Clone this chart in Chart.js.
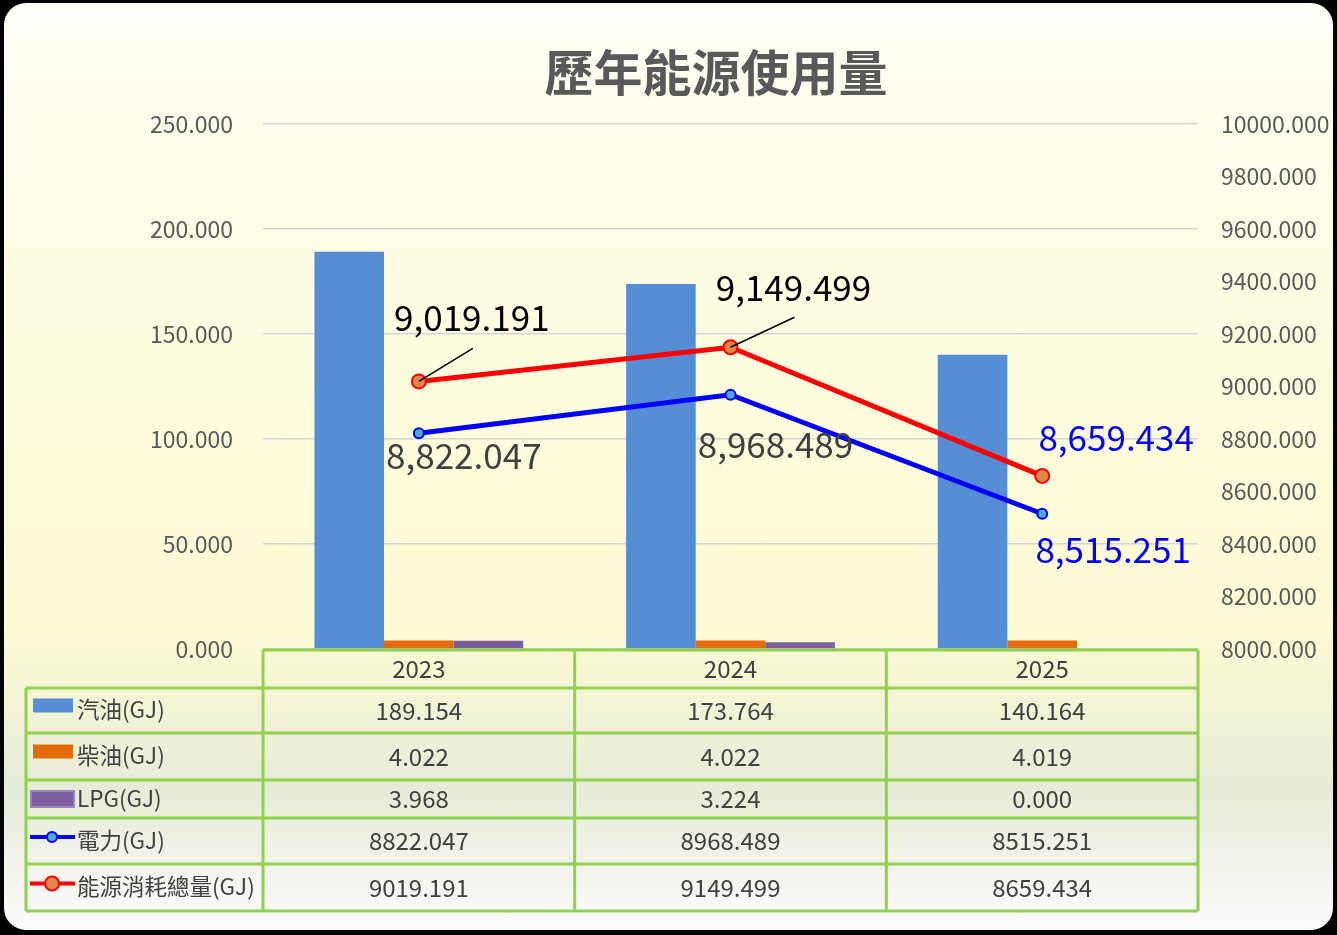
<!DOCTYPE html>
<html>
<head>
<meta charset="utf-8">
<script src="https://cdn.jsdelivr.net/npm/chart.js@4.4.1/dist/chart.umd.min.js"></script>
<style>
html, body { margin: 0; padding: 0; background: #000; width: 1337px; height: 935px; overflow: hidden; }
#panel {
  position: absolute; left: 4px; top: 3px; width: 1329px; height: 927px; border-radius: 22px;
  background: linear-gradient(to bottom, #fefef6 0%, #fefde2 30%, #fdfbd4 68%, #e6ecd8 85%, #f5f6f0 95%, #fcfcfc 100%);
}
#wrap { position: absolute; left: 0; top: 0; width: 1337px; height: 935px; }
</style>
</head>
<body>
<div id="panel"></div>
<div id="wrap"><canvas id="energyChart" width="1337" height="935"></canvas></div>
<script>
const years = ['2023', '2024', '2025'];
const gasoline = [189.154, 173.764, 140.164];
const diesel = [4.022, 4.022, 4.019];
const lpg = [3.968, 3.224, 0.000];
const electricity = [8822.047, 8968.489, 8515.251];
const totalEnergy = [9019.191, 9149.499, 8659.434];
const seriesNames = ['汽油(GJ)', '柴油(GJ)', 'LPG(GJ)', '電力(GJ)', '能源消耗總量(GJ)'];

const FONT = '"Noto Sans CJK TC", "Noto Sans", sans-serif';
const TEXT_GRAY = '#595959';
const GREEN = '#92d050';

// where the value labels of the two lines sit, relative to their point
const labelStyle = {
  3: { color: ['#404040', '#404040', '#0000ff'], dx: [45, 45, 71], dy: [22, 50, 36], leader: [null, null, null] },
  4: { color: ['#000000', '#000000', '#0000ff'], dx: [53, 63, 74], dy: [-64, -60, -38], leader: [[54, -33], [64, -30], null] }
};

function fmt(v) {
  return v.toLocaleString('en-US', { minimumFractionDigits: 3, maximumFractionDigits: 3 });
}

const titlePlugin = {
  id: 'titleText',
  afterDraw(chart) {
    const ctx = chart.ctx;
    ctx.save();
    ctx.font = 'bold 49px ' + FONT;
    ctx.fillStyle = TEXT_GRAY;
    ctx.textAlign = 'center';
    ctx.textBaseline = 'middle';
    ctx.fillText('歷年能源使用量', 716, 72);
    ctx.restore();
  }
};

const lineLabels = {
  id: 'lineLabels',
  afterDatasetsDraw(chart) {
    const ctx = chart.ctx;
    ctx.save();
    ctx.font = '35px ' + FONT;
    ctx.textAlign = 'center';
    ctx.textBaseline = 'middle';
    Object.keys(labelStyle).forEach(k => {
      const idx = +k;
      const st = labelStyle[k];
      const meta = chart.getDatasetMeta(idx);
      const values = chart.data.datasets[idx].data;
      meta.data.forEach((pt, i) => {
        if (st.leader[i]) {
          ctx.strokeStyle = '#000';
          ctx.lineWidth = 1.5;
          ctx.beginPath();
          ctx.moveTo(pt.x, pt.y);
          ctx.lineTo(pt.x + st.leader[i][0], pt.y + st.leader[i][1]);
          ctx.stroke();
        }
        ctx.fillStyle = st.color[i];
        ctx.fillText(fmt(values[i]), pt.x + st.dx[i], pt.y + st.dy[i]);
      });
    });
    ctx.restore();
  }
};

const dataTable = {
  id: 'dataTable',
  afterDraw(chart) {
    const ctx = chart.ctx;
    const area = chart.chartArea;
    const xs = chart.scales.x;
    const leftEdge = 26;
    const headerH = 38;
    const rowH = [45, 47, 38, 46, 47];
    const top = area.bottom + 1;
    const edges = [top + headerH];
    rowH.forEach(h => edges.push(edges[edges.length - 1] + h));
    const bottom = edges[edges.length - 1];
    const colW = (area.right - area.left) / years.length;
    const rows = [gasoline, diesel, lpg, electricity, totalEnergy];

    ctx.save();
    ctx.font = '24px ' + FONT;
    ctx.fillStyle = '#404040';
    ctx.textAlign = 'center';
    ctx.textBaseline = 'middle';
    years.forEach((y, i) => ctx.fillText(y, xs.getPixelForValue(i), top + headerH / 2));
    rows.forEach((vals, r) => {
      const cy = (edges[r] + edges[r + 1]) / 2;
      ctx.font = '24px ' + FONT;
      vals.forEach((v, i) => {
        ctx.fillStyle = '#404040';
        ctx.textAlign = 'center';
        ctx.fillText(v.toFixed(3), xs.getPixelForValue(i), cy);
      });
      ctx.font = '22.5px ' + FONT;
      ctx.textAlign = 'left';
      ctx.fillStyle = '#404040';
      ctx.fillText(seriesNames[r], 77, cy - 1);
      // legend keys
      const ds = chart.data.datasets[r];
      if (r < 3) {
        ctx.fillStyle = ds.backgroundColor;
        if (r === 2) {
          ctx.fillRect(30, cy - 9, 45, 18);
          ctx.strokeStyle = '#9a84bc';
          ctx.lineWidth = 2;
          ctx.strokeRect(31, cy - 8, 43, 16);
        } else {
          ctx.fillRect(33, cy - 12, 40, 14);
        }
      } else {
        const ly = cy - 4;
        ctx.strokeStyle = ds.borderColor;
        ctx.lineWidth = 4;
        ctx.beginPath();
        ctx.moveTo(30, ly);
        ctx.lineTo(75, ly);
        ctx.stroke();
        ctx.beginPath();
        ctx.arc(52, ly, ds.pointRadius, 0, Math.PI * 2);
        ctx.fillStyle = ds.pointBackgroundColor;
        ctx.fill();
        ctx.lineWidth = 2;
        ctx.strokeStyle = ds.pointBorderColor;
        ctx.stroke();
      }
    });
    ctx.strokeStyle = GREEN;
    ctx.lineWidth = 3;
    ctx.beginPath();
    ctx.moveTo(area.left, top); ctx.lineTo(area.right, top);
    edges.forEach(e => { ctx.moveTo(leftEdge, e); ctx.lineTo(area.right, e); });
    for (let i = 0; i <= years.length; i++) {
      const x = area.left + colW * i;
      ctx.moveTo(x, top); ctx.lineTo(x, bottom);
    }
    ctx.moveTo(leftEdge, edges[0]); ctx.lineTo(leftEdge, bottom);
    ctx.stroke();
    ctx.restore();
  }
};

new Chart(document.getElementById('energyChart'), {
  data: {
    labels: years,
    datasets: [
      { type: 'bar', label: seriesNames[0], data: gasoline, backgroundColor: '#558ed5', yAxisID: 'y', order: 2 },
      { type: 'bar', label: seriesNames[1], data: diesel, backgroundColor: '#e46c0a', yAxisID: 'y', order: 2 },
      { type: 'bar', label: seriesNames[2], data: lpg, backgroundColor: '#7a5ea0', yAxisID: 'y', order: 2 },
      { type: 'line', label: seriesNames[3], data: electricity, borderColor: '#0000ff', borderWidth: 5,
        pointRadius: 5, pointBackgroundColor: '#4aa8e0', pointBorderColor: '#0000ff', pointBorderWidth: 2,
        yAxisID: 'y1', order: 1 },
      { type: 'line', label: seriesNames[4], data: totalEnergy, borderColor: '#ff0000', borderWidth: 5,
        pointRadius: 7, pointBackgroundColor: '#e0874a', pointBorderColor: '#ff0000', pointBorderWidth: 2,
        yAxisID: 'y1', order: 0 }
    ]
  },
  options: {
    responsive: false,
    animation: false,
    layout: { padding: { top: 124, bottom: 286, left: 0, right: 0 } },
    plugins: { legend: { display: false }, tooltip: { enabled: false } },
    datasets: { bar: { categoryPercentage: 0.67, barPercentage: 1.0 } },
    scales: {
      x: { display: false },
      y: {
        position: 'left', min: 0, max: 250,
        ticks: { stepSize: 50, padding: 30, color: TEXT_GRAY, font: { family: FONT, size: 23 }, callback: v => v.toFixed(3) },
        grid: { color: '#d4d4d4', lineWidth: 1.5, drawTicks: false },
        border: { display: false },
        afterFit: s => { s.width = 263; }
      },
      y1: {
        position: 'right', min: 8000, max: 10000,
        ticks: { stepSize: 200, padding: 23, color: TEXT_GRAY, font: { family: FONT, size: 23 }, callback: v => v.toFixed(3) },
        grid: { display: false, drawTicks: false },
        border: { display: false },
        afterFit: s => { s.width = 139; }
      }
    }
  },
  plugins: [titlePlugin, lineLabels, dataTable]
});
</script>
</body>
</html>
